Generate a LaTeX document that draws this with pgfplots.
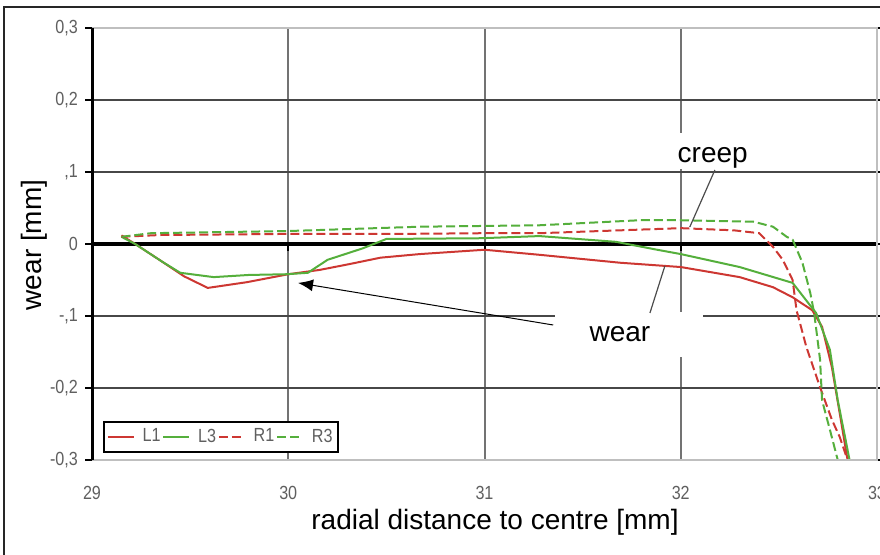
\documentclass[border=0pt]{standalone}
\usepackage{fontspec}
\setmainfont{Liberation Sans}
\newfontfamily\narrowfont[FakeStretch=0.85]{Liberation Sans}
\usepackage{pgfplots}
\pgfplotsset{compat=1.18}
\usetikzlibrary{arrows.meta}
\definecolor{cred}{RGB}{205,55,50}
\definecolor{cgreen}{RGB}{85,175,60}
\definecolor{tickgray}{RGB}{95,95,95}
\newcommand{\bigf}{\fontsize{14}{16}\selectfont}
\begin{document}
\begin{tikzpicture}
\useasboundingbox (0,0) rectangle (440pt,277.5pt);
\clip (0,0) rectangle (440pt,277.5pt);
\draw[line width=1pt, black!85] (2pt,-10pt) rectangle (460pt,274pt);
\begin{axis}[
  at={(46pt,47.5pt)}, anchor=south west,
  scale only axis, width=392.5pt, height=216pt,
  xmin=29, xmax=33, ymin=-0.3, ymax=0.3,
  xtick={29,30,31,32,33}, xticklabels={29,30,31,32,33},
  ytick={-0.3,-0.2,-0.1,0,0.1,0.2,0.3},
  yticklabels={{-0,3},{-0,2},{-,1},{0},{,1},{0,2},{0,3}},
  xmajorgrids, ymajorgrids,
  x grid style={draw=black!55, line width=1pt},
  y grid style={draw=black!72, line width=1pt},
  axis line style={draw=none},
  tick align=outside, major tick length=3.5pt,
  ytick style={black, line width=1pt},
  xtick style={draw=none},
  ticklabel style={font=\narrowfont\fontsize{9.5}{10}\selectfont, text=tickgray},
  xticklabel style={yshift=-6pt},
  legend columns=4,
  legend style={at={(rel axis cs:0.014,0.016)}, anchor=south west, draw=black, line width=1pt, fill=white,
    font=\narrowfont\fontsize{9.5}{10}\selectfont, nodes={text=tickgray, inner xsep=1pt}, inner sep=1.5pt},
  legend image code/.code={\draw[#1, line width=0.8pt] (0pt,0pt) -- (13pt,0pt);},
  /tikz/every even column/.append style={column sep=0pt},
  /tikz/every odd column/.append style={column sep=3pt},
  clip=false,
]
% zero line and its ticks
\draw[black, line width=2pt] (axis cs:29,0) -- (axis cs:33,0);
\draw[black, line width=1pt] (axis cs:30,0) -- ([yshift=-3.5pt]axis cs:30,0);
\draw[black, line width=1pt] (axis cs:31,0) -- ([yshift=-3.5pt]axis cs:31,0);
\draw[black, line width=1pt] (axis cs:32,0) -- ([yshift=-3.5pt]axis cs:32,0);
\draw[black, line width=1pt] (axis cs:33,0) -- ([yshift=-3.5pt]axis cs:33,0);
% white label boxes
\fill[white] (axis cs:31.868,0.104) rectangle (axis cs:32.454,0.154);
\fill[white] (axis cs:31.359,-0.0944) rectangle (axis cs:32.113,-0.157);

\addplot[cred, line width=1pt] coordinates {
(29.15,0.012)(29.22,0.000)(29.36,-0.025)(29.47,-0.045)(29.59,-0.061)(29.79,-0.053)(30.00,-0.042)(30.16,-0.036)(30.31,-0.028)(30.47,-0.019)(30.67,-0.014)(31.00,-0.008)(31.28,-0.015)(31.69,-0.026)(32.00,-0.032)(32.30,-0.046)(32.47,-0.060)(32.57,-0.074)(32.67,-0.092)(32.72,-0.115)(32.77,-0.171)(32.81,-0.235)(32.85,-0.300)};
\addlegendentry{L1}
\addplot[cgreen, line width=1pt] coordinates {
(29.15,0.010)(29.22,0.000)(29.36,-0.025)(29.45,-0.040)(29.62,-0.046)(29.80,-0.043)(29.99,-0.042)(30.10,-0.040)(30.20,-0.022)(30.38,-0.006)(30.50,0.007)(30.98,0.008)(31.28,0.011)(31.67,0.003)(31.88,-0.008)(32.00,-0.014)(32.30,-0.032)(32.57,-0.054)(32.69,-0.096)(32.76,-0.147)(32.80,-0.217)(32.84,-0.272)(32.86,-0.300)};
\addlegendentry{L3}
\addplot[cred, line width=1pt, dash pattern=on 4.5pt off 2pt] coordinates {
(29.15,0.010)(29.35,0.0125)(30.00,0.014)(30.57,0.014)(31.00,0.015)(31.28,0.015)(31.59,0.018)(32.00,0.022)(32.27,0.019)(32.40,0.015)(32.47,-0.004)(32.52,-0.022)(32.57,-0.050)(32.59,-0.092)(32.64,-0.143)(32.71,-0.199)(32.77,-0.244)(32.81,-0.268)(32.85,-0.300)};
\addlegendentry{R1}
\addplot[cgreen, line width=1pt, dash pattern=on 4.5pt off 2pt] coordinates {
(29.15,0.010)(29.30,0.015)(30.00,0.018)(30.67,0.024)(31.28,0.026)(31.79,0.033)(32.00,0.033)(32.37,0.031)(32.47,0.024)(32.54,0.010)(32.57,0.006)(32.62,-0.026)(32.66,-0.068)(32.68,-0.096)(32.71,-0.161)(32.72,-0.217)(32.76,-0.258)(32.80,-0.300)};
\addlegendentry{R3}

% annotations
\node[anchor=base, font=\bigf] at (axis cs:32.163,0.1125) {creep};
\node[anchor=base, font=\bigf] at (axis cs:31.69,-0.136) {wear};
\draw[black!70, line width=0.6pt] (axis cs:32.174,0.1028) -- (axis cs:32.046,0.0236);
\draw[black!70, line width=0.6pt] (axis cs:31.843,-0.0958) -- (axis cs:31.919,-0.0306);
\draw[black, line width=0.5pt, -{Latex[length=7.5pt,width=6pt]}] (axis cs:31.35,-0.1125) -- (axis cs:30.05,-0.054);
% frame of plot area
\draw[black!25, line width=1pt] (rel axis cs:0,1) -- (rel axis cs:1,1) -- (rel axis cs:1,0) -- (rel axis cs:0,0);
\draw[black, line width=1.5pt] (rel axis cs:0,0) -- (rel axis cs:0,1);
\end{axis}
\node[font=\bigf] at (247.5pt,16.5pt) {radial distance to centre [mm]};
\node[font=\bigf, rotate=90] at (17pt,155pt) {wear [mm]};
\end{tikzpicture}
\end{document}
